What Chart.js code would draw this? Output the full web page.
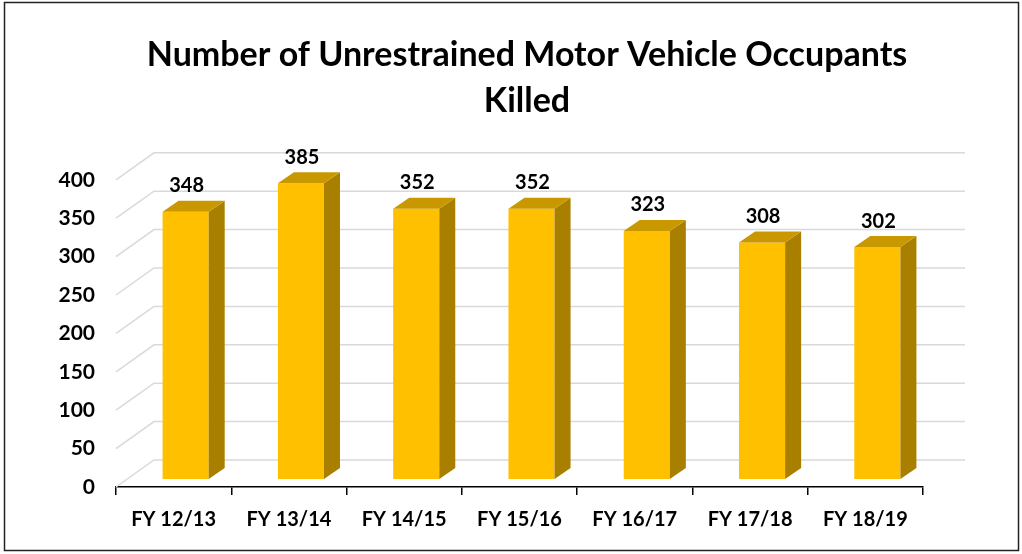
<!DOCTYPE html>
<html>
<head>
<meta charset="utf-8">
<script src="https://cdn.jsdelivr.net/npm/chart.js@4.4.1/dist/chart.umd.min.js"></script>
<style>
  html, body { margin: 0; padding: 0; background: #fff; }
  #wrap { width: 1022px; height: 554px; position: relative; }
</style>
</head>
<body>
<div id="wrap"><canvas id="chart" width="1022" height="554"></canvas></div>
<script>
var years = ["FY 12/13", "FY 13/14", "FY 14/15", "FY 15/16", "FY 16/17", "FY 17/18", "FY 18/19"];
var killed = [348, 385, 352, 352, 323, 308, 302];
var yTicks = [0, 50, 100, 150, 200, 250, 300, 350, 400];

var FONT = "Lato, 'Open Sans', sans-serif";
// depth of the floor (front axis -> back wall) and of the bar plane
var wallDx = 38, wallDy = -27;
var barDx = 12, barDy = -8;
var sideDx = 16, sideDy = -11;

// back wall gridlines + slanted floor lines
var wallPlugin = {
    id: 'wall',
    beforeDatasetsDraw: function (chart) {
        var c = chart.ctx, y = chart.scales.y, a = chart.chartArea;
        c.save();
        c.strokeStyle = '#d9d9d9';
        c.lineWidth = 1.5;
        yTicks.forEach(function (v) {
            var py = y.getPixelForValue(v);
            c.beginPath();
            c.moveTo(a.left, py);
            c.lineTo(a.left + wallDx, py + wallDy);
            c.lineTo(a.right + wallDx + 4, py + wallDy);
            c.stroke();
        });
        c.restore();
        c.save();
        c.translate(barDx, barDy);
    },
    afterDatasetsDraw: function (chart) {
        var c = chart.ctx;
        var meta = chart.getDatasetMeta(0);
        meta.data.forEach(function (bar, i) {
            var l = bar.x - bar.width / 2, r = bar.x + bar.width / 2;
            var t = bar.y, b = bar.base;
            // side face
            c.fillStyle = '#a97f00';
            c.beginPath();
            c.moveTo(r, b); c.lineTo(r + sideDx, b + sideDy);
            c.lineTo(r + sideDx, t + sideDy); c.lineTo(r, t);
            c.closePath(); c.fill();
            // top face
            c.fillStyle = '#c99800';
            c.beginPath();
            c.moveTo(l, t); c.lineTo(r, t);
            c.lineTo(r + sideDx, t + sideDy); c.lineTo(l + sideDx, t + sideDy);
            c.closePath(); c.fill();
            // value label
            c.fillStyle = '#000';
            c.font = 'bold 20px ' + FONT;
            c.textAlign = 'center';
            c.textBaseline = 'bottom';
            c.fillText(String(killed[i]), bar.x + 1, t + sideDy - 5);
        });
        c.restore();
    }
};

var framePlugin = {
    id: 'frame',
    afterDraw: function (chart) {
        var c = chart.ctx;
        c.save();
        c.strokeStyle = '#222';
        c.lineWidth = 1.5;
        c.strokeRect(4.5, 2.5, 1014, 548);
        c.restore();
    }
};

new Chart(document.getElementById("chart"), {
    type: 'bar',
    data: {
        labels: years,
        datasets: [{
            data: killed,
            backgroundColor: '#ffc000',
            borderWidth: 0,
            barPercentage: 0.4,
            categoryPercentage: 1
        }]
    },
    plugins: [wallPlugin, framePlugin],
    options: {
        responsive: false,
        animation: false,
        layout: { padding: { left: 32, right: 0, top: 0, bottom: 0 } },
        plugins: {
            legend: { display: false },
            tooltip: { enabled: false },
            title: {
                display: true,
                text: ["Number of Unrestrained Motor Vehicle Occupants", "Killed"],
                color: '#000',
                font: { family: FONT, size: 34, weight: 'bold', lineHeight: 1.35 },
                padding: { top: 32, bottom: 56 }
            }
        },
        scales: {
            x: {
                afterFit: function (s) { s.height = 554 - 487; },
                grid: { offset: true, drawOnChartArea: false, tickLength: 8, color: '#000', lineWidth: 1.5 },
                border: { display: true, color: '#000', width: 1.5 },
                ticks: { color: '#000', padding: 13, font: { family: FONT, size: 20, weight: 'bold' } }
            },
            y: {
                min: 0,
                max: 400,
                afterFit: function (s) { s.width = 116 - 32; },
                grid: { display: false, drawTicks: false, tickLength: 0 },
                border: { display: false },
                ticks: { stepSize: 50, color: '#000', padding: 21, font: { family: FONT, size: 21, weight: 'bold' } }
            },
            // empty right axis keeps the plot clear of the right margin
            yr: {
                position: 'right',
                afterFit: function (s) { s.width = 99; },
                grid: { display: false },
                border: { display: false },
                ticks: { display: false }
            }
        }
    }
});
</script>
</body>
</html>
